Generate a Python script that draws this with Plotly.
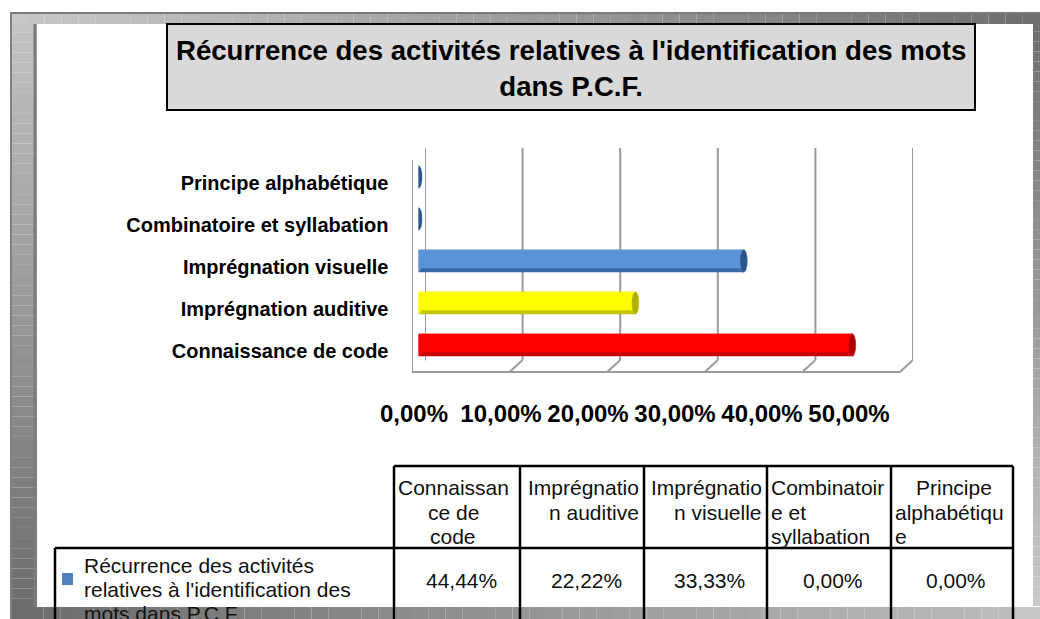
import plotly.graph_objects as go

# ---- data -------------------------------------------------------------
categories = [
    "Connaissance de code",
    "Imprégnation auditive",
    "Imprégnation visuelle",
    "Combinatoire et syllabation",
    "Principe alphabétique",
]
values = [44.44, 22.22, 33.33, 0.0, 0.0]  # percent
axis_ticks = [0, 10, 20, 30, 40, 50]
series_name_lines = ["Récurrence des activités", "relatives à l'identification des", "mots dans P.C.F."]
header_lines = [
    ["Connaissan", "ce de", "code"],
    ["Imprégnatio", "n auditive"],
    ["Imprégnatio", "n visuelle"],
    ["Combinatoir", "e et", "syllabation"],
    ["Principe", "alphabétiqu", "e"],
]
title_lines = ["Récurrence des activités relatives à l'identification des mots", "dans P.C.F."]

# ---- styling ----------------------------------------------------------
main_colors = ["#ff0000", "#ffff00", "#5b93d6", "#5b93d6", "#5b93d6"]
shade_colors = ["#c80000", "#c4c400", "#3a6aa6", "#3a6aa6", "#3a6aa6"]
cap_colors = ["#b00000", "#b0b000", "#2c5688", "#2c5688", "#2c5688"]
FONT = "Liberation Sans, Arial, sans-serif"

W, H = 1040, 619


def px(x):
    return x / W


def py(y):
    return 1 - y / H


def fmt_pct(v):
    return f"{v:.2f}%".replace(".", ",")


fig = go.Figure()

# cylinder bars: dark underside, coloured body on top
fig.add_trace(go.Bar(
    x=values, y=categories, orientation="h", width=0.54, offset=-0.27,
    marker=dict(color=shade_colors, line=dict(width=0)), hoverinfo="skip", showlegend=False,
))
fig.add_trace(go.Bar(
    x=values, y=categories, orientation="h", width=0.44, offset=-0.17,
    marker=dict(color=main_colors, line=dict(width=0)), hoverinfo="skip", showlegend=False,
))

# helper traces so the auxiliary axes exist
for ax in ("x2", "x3", "x4"):
    fig.add_trace(go.Scatter(
        x=[0], y=[categories[0]], xaxis=ax, yaxis="y", mode="markers",
        marker=dict(opacity=0), hoverinfo="skip", showlegend=False,
    ))

shapes = []

# ---- outer frame (stepped gradients) ----------------------------------
def gray(v):
    v = int(round(v))
    return f"rgb({v},{v},{v})"

steps = 60
# left band: light at top, dark at bottom
for i in range(steps):
    y0 = 12 + (619 - 12) * i / steps
    y1 = 12 + (619 - 12) * (i + 1) / steps
    t = i / (steps - 1)
    shapes.append(dict(type="rect", xref="paper", yref="paper", x0=px(10), x1=px(37),
                       y0=py(y1), y1=py(y0), fillcolor=gray(196 - 88 * t), line=dict(width=0), layer="below"))
# top band: light at left, dark at right
for i in range(steps):
    x0 = 10 + (1040 - 10) * i / steps
    x1 = 10 + (1040 - 10) * (i + 1) / steps
    t = i / (steps - 1)
    shapes.append(dict(type="rect", xref="paper", yref="paper", x0=px(x0), x1=px(x1),
                       y0=py(24), y1=py(12), fillcolor=gray(200 - 90 * t), line=dict(width=0), layer="below"))
# right band: dark at top, light toward the bottom
for i in range(steps):
    y0 = 12 + (606 - 12) * i / steps
    y1 = 12 + (606 - 12) * (i + 1) / steps
    t = i / (steps - 1)
    shapes.append(dict(type="rect", xref="paper", yref="paper", x0=px(1033), x1=px(1040),
                       y0=py(y1), y1=py(y0), fillcolor=gray(110 + 90 * t), line=dict(width=0), layer="below"))
# bottom band: dark at left, lighter at right
for i in range(steps):
    x0 = 10 + (1015 - 10) * i / steps
    x1 = 10 + (1015 - 10) * (i + 1) / steps
    t = i / (steps - 1)
    shapes.append(dict(type="rect", xref="paper", yref="paper", x0=px(x0), x1=px(x1),
                       y0=py(619), y1=py(607), fillcolor=gray(108 + 80 * t), line=dict(width=0), layer="below"))
shapes.append(dict(type="rect", xref="paper", yref="paper", x0=px(1015), x1=px(1040),
                   y0=py(619), y1=py(607), fillcolor="#c8c8c8", line=dict(width=0), layer="below"))
# thin edge lines of the frame
shapes.append(dict(type="line", xref="paper", yref="paper", x0=px(10), x1=px(1040), y0=py(13), y1=py(13),
                   line=dict(color="#7a7a7a", width=2), layer="below"))
shapes.append(dict(type="line", xref="paper", yref="paper", x0=px(11), x1=px(11), y0=py(13), y1=py(619),
                   line=dict(color="#808080", width=2), layer="below"))
shapes.append(dict(type="line", xref="paper", yref="paper", x0=px(35), x1=px(35), y0=py(24), y1=py(607),
                   line=dict(color="#7c7c7c", width=3), layer="below"))
shapes.append(dict(type="rect", xref="paper", yref="paper", x0=px(37), x1=px(1033), y0=py(607), y1=py(24),
                   fillcolor="white", line=dict(width=0), layer="below"))

# ---- title box ----------------------------------------------------------
shapes.append(dict(type="rect", xref="paper", yref="paper", x0=px(167), x1=px(975), y0=py(110), y1=py(24),
                   fillcolor="#d9d9d9", line=dict(color="black", width=2), layer="below"))

# ---- 3-D walls: back gridlines (x3), front floor edge (x4) ---------------
wall = dict(color="#9a9a9a", width=2)
for t in axis_ticks:
    shapes.append(dict(type="line", xref="x3", yref="paper", x0=t, x1=t, y0=py(360), y1=py(148),
                       line=wall, layer="below"))
    shapes.append(dict(type="line", xref="x3", yref="paper", xsizemode="pixel", xanchor=t,
                       x0=-13, x1=0, y0=py(372), y1=py(360), line=wall, layer="below"))
shapes.append(dict(type="line", xref="x4", yref="paper", x0=axis_ticks[0], x1=axis_ticks[-1],
                   y0=py(372), y1=py(372), line=wall, layer="below"))
shapes.append(dict(type="line", xref="x4", yref="paper", x0=axis_ticks[0], x1=axis_ticks[0],
                   y0=py(372), y1=py(160), line=wall, layer="below"))
shapes.append(dict(type="line", xref="x3", yref="paper", xsizemode="pixel", xanchor=axis_ticks[0],
                   x0=-13, x1=0, y0=py(160), y1=py(148), line=wall, layer="below"))

# ---- cylinder caps ------------------------------------------------------
for i, v in enumerate(values):
    shapes.append(dict(type="circle", xref="x", yref="y", xsizemode="pixel", xanchor=0,
                       x0=-3.5, x1=3.5, y0=i - 0.27, y1=i + 0.27,
                       fillcolor=main_colors[i], line=dict(width=0), layer="above"))
    shapes.append(dict(type="circle", xref="x", yref="y", xsizemode="pixel", xanchor=v,
                       x0=-3.5, x1=3.5, y0=i - 0.27, y1=i + 0.27,
                       fillcolor=cap_colors[i], line=dict(color=shade_colors[i], width=0.5), layer="above"))

# ---- data table ---------------------------------------------------------
col_edges = [394, 520, 644, 767, 891, 1013]
tline = dict(color="black", width=2.5)
shapes.append(dict(type="line", xref="paper", yref="paper", x0=px(394), x1=px(1013), y0=py(466), y1=py(466),
                   line=tline, layer="above"))
shapes.append(dict(type="line", xref="paper", yref="paper", x0=px(55), x1=px(1013), y0=py(548), y1=py(548),
                   line=tline, layer="above"))
for xe in col_edges:
    shapes.append(dict(type="line", xref="paper", yref="paper", x0=px(xe), x1=px(xe), y0=py(466), y1=py(619),
                       line=tline, layer="above"))
shapes.append(dict(type="line", xref="paper", yref="paper", x0=px(55), x1=px(55), y0=py(548), y1=py(619),
                   line=tline, layer="above"))
# legend key
shapes.append(dict(type="rect", xref="paper", yref="paper", x0=px(62), x1=px(73), y0=py(585), y1=py(573),
                   fillcolor="#4f81bd", line=dict(width=0), layer="above"))

annotations = []
annotations.append(dict(
    text="<br>".join(title_lines), xref="paper", yref="paper", x=px(571), y=py(68),
    xanchor="center", yanchor="middle", showarrow=False, align="center",
    font=dict(family=FONT, size=27.6, color="black", weight="bold"),
))

tfont = dict(family=FONT, size=21, color="#111111")
line_y = [487, 512, 536]
header_align = ["center", "right", "right", "left", "mixed"]
for c, lines in enumerate(header_lines):
    left, right = col_edges[c], col_edges[c + 1]
    for k, txt in enumerate(lines):
        mode = header_align[c]
        if mode == "mixed":
            mode = "center" if k == 0 else "left"
        if mode == "center":
            x, xa = (left + right) / 2 - 4 + (6 if c == 4 else 0), "center"
        elif mode == "right":
            x, xa = right - 3, "right"
        else:
            x, xa = left + 2, "left"
        annotations.append(dict(text=txt, xref="paper", yref="paper", x=px(x), y=py(line_y[k]),
                                xanchor=xa, yanchor="middle", showarrow=False, font=tfont))

for c, v in enumerate(values):
    left, right = col_edges[c], col_edges[c + 1]
    annotations.append(dict(text=fmt_pct(v), xref="paper", yref="paper", x=px((left + right) / 2 + 4),
                            y=py(580), xanchor="center", yanchor="middle", showarrow=False, font=tfont))

for k, txt in enumerate(series_name_lines):
    annotations.append(dict(text=txt, xref="paper", yref="paper", x=px(82), y=py(565 + 24 * k),
                            xanchor="left", yanchor="middle", showarrow=False, font=tfont))

hidden = dict(visible=False, showgrid=False, zeroline=False, automargin=False)

fig.update_layout(
    width=W, height=H,
    margin=dict(l=0, r=0, t=0, b=0, pad=0),
    paper_bgcolor="white", plot_bgcolor="rgba(0,0,0,0)",
    barmode="overlay", showlegend=False,
    font=dict(family=FONT, color="black"),
    xaxis=dict(domain=[px(418.5), px(906.5)], range=[0, 50], anchor="y", **hidden),
    yaxis=dict(domain=[py(366), py(156)], type="category", categoryarray=categories,
               range=[-0.5, 4.5], showgrid=False, zeroline=False, showline=False, automargin=False,
               ticks="outside", ticklen=0, ticklabelstandoff=25, ticklabelshift=6,
               tickfont=dict(family=FONT, size=20, color="black", weight="bold")),
    xaxis2=dict(domain=[px(414), px(849)], range=[0, 50], anchor="free", position=py(397),
                tickvals=axis_ticks, ticktext=[fmt_pct(t) for t in axis_ticks], tickangle=0,
                showgrid=False, zeroline=False, showline=False, ticks="", automargin=False,
                tickfont=dict(family=FONT, size=24, color="black", weight="bold")),
    xaxis3=dict(domain=[px(425), px(913)], range=[0, 50], anchor="y", **hidden),
    xaxis4=dict(domain=[px(412), px(900)], range=[0, 50], anchor="y", **hidden),
    shapes=shapes,
    annotations=annotations,
)

fig.write_html("out.html")
